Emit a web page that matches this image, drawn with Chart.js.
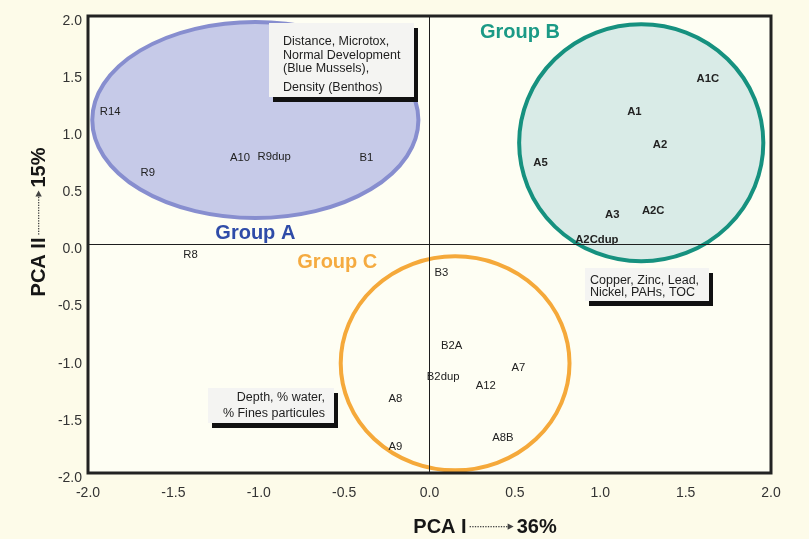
<!DOCTYPE html>
<html>
<head>
<meta charset="utf-8">
<title>PCA site scores</title>
<script src="https://cdn.jsdelivr.net/npm/chart.js@4/dist/chart.umd.min.js"></script>
<style>
  html, body { margin: 0; padding: 0; background: #fdfbe9; }
  canvas { display: block; }
</style>
</head>
<body>
<canvas id="pca" width="809" height="539"></canvas>
<script>
// Site scores on the first two principal components
const groupASites = ['R14', 'R9', 'A10', 'R9dup', 'B1'];
const groupAPC1 = [-1.87, -1.65, -1.11, -0.91, -0.37];
const groupAPC2 = [1.16, 0.63, 0.76, 0.77, 0.76];

const groupBSites = ['A1C', 'A1', 'A2', 'A5', 'A3', 'A2C', 'A2Cdup'];
const groupBPC1 = [1.63, 1.20, 1.35, 0.65, 1.07, 1.31, 0.98];
const groupBPC2 = [1.45, 1.16, 0.87, 0.71, 0.26, 0.29, 0.04];

const groupCSites = ['B3', 'B2A', 'B2dup', 'A12', 'A7', 'A8', 'A9', 'A8B'];
const groupCPC1 = [0.07, 0.13, 0.08, 0.33, 0.52, -0.20, -0.20, 0.43];
const groupCPC2 = [-0.25, -0.89, -1.16, -1.24, -1.08, -1.35, -1.77, -1.69];

const otherSites = ['R8'];
const otherPC1 = [-1.40];
const otherPC2 = [-0.09];

// Group envelopes: centre and half-axes in PC units
const groupNames = ['Group A', 'Group B', 'Group C'];
const envCentreX = [-1.02, 1.24, 0.15];
const envCentreY = [1.09, 0.89, -1.04];
const envHalfX = [0.955, 0.715, 0.67];
const envHalfY = [0.858, 1.037, 0.937];
const groupNameX = [-1.02, 0.53, -0.54];
const groupNameY = [0.10, 1.86, -0.16];

const axisTicks = [-2.0, -1.5, -1.0, -0.5, 0.0, 0.5, 1.0, 1.5, 2.0];

// Variables driving each direction, anchored at their top-left corner
const noteLines = [
  ['Distance, Microtox,', 'Normal Development', '(Blue Mussels),', 'Density (Benthos)'],
  ['Copper, Zinc, Lead,', 'Nickel, PAHs, TOC'],
  ['Depth, % water,', '% Fines particules']
];
const noteX = [-0.94, 0.91, -1.30];
const noteY = [1.94, -0.21, -1.26];

// ---- styling ----
const SANS = '"Liberation Sans", Arial, Helvetica, sans-serif';
const groupStyles = [
  { fill: '#c6cae8', stroke: '#878ecf', text: '#2f4ca8' },
  { fill: '#d9ebe7', stroke: '#16917f', text: '#1b9a86' },
  { fill: null,      stroke: '#f5a93a', text: '#f5ab40' }
];
const noteBoxes = [
  { w: 145, h: 74, align: 'left',  pad: 14, rows: [19, 32.5, 46, 65] },
  { w: 124, h: 33, align: 'left',  pad: 5,  rows: [13, 25] },
  { w: 126, h: 35, align: 'right', pad: 9,  rows: [9.5, 25.5] }
];

function toPoints(xs, ys) { return xs.map((v, i) => ({ x: v, y: ys[i] })); }

function drawArrowTitle(ctx, lead, tail, cx, cy, angle) {
  ctx.save();
  ctx.translate(cx, cy);
  ctx.rotate(angle);
  ctx.font = 'bold 20px ' + SANS;
  const wL = ctx.measureText(lead).width;
  const wT = ctx.measureText(tail).width;
  const arrowLen = 44, gap = 3;
  const total = wL + gap + arrowLen + gap + wT;
  let xx = -total / 2;
  ctx.textBaseline = 'middle';
  ctx.textAlign = 'left';
  ctx.fillStyle = '#161616';
  ctx.fillText(lead, xx, 1);
  xx += wL + gap;
  ctx.fillStyle = '#444';
  for (let d = 0; d < arrowLen - 6; d += 2.6) ctx.fillRect(xx + d, 0, 1.3, 1.3);
  ctx.beginPath();
  ctx.moveTo(xx + arrowLen, 0.6);
  ctx.lineTo(xx + arrowLen - 6, -2.6);
  ctx.lineTo(xx + arrowLen - 6, 3.8);
  ctx.closePath();
  ctx.fill();
  xx += arrowLen + gap;
  ctx.fillStyle = '#161616';
  ctx.fillText(tail, xx, 1);
  ctx.restore();
}

const pcaDecor = {
  id: 'pcaDecor',
  beforeDraw(chart) {
    const { ctx, chartArea: a, scales: { x, y } } = chart;
    ctx.save();
    ctx.fillStyle = '#fdfbe9';
    ctx.fillRect(0, 0, chart.width, chart.height);
    ctx.fillStyle = '#fefef3';
    ctx.fillRect(a.left, a.top, a.right - a.left, a.bottom - a.top);
    groupNames.forEach((n, i) => {
      const cx = x.getPixelForValue(envCentreX[i]);
      const cy = y.getPixelForValue(envCentreY[i]);
      const rx = x.getPixelForValue(envCentreX[i] + envHalfX[i]) - cx;
      const ry = cy - y.getPixelForValue(envCentreY[i] + envHalfY[i]);
      ctx.beginPath();
      ctx.ellipse(cx, cy, rx, ry, 0, 0, Math.PI * 2);
      if (groupStyles[i].fill) {
        ctx.fillStyle = groupStyles[i].fill;
        ctx.fill();
      }
      ctx.lineWidth = 4;
      ctx.strokeStyle = groupStyles[i].stroke;
      ctx.stroke();
    });
    ctx.restore();
  },
  afterDatasetsDraw(chart) {
    const { ctx, scales: { x, y } } = chart;
    ctx.save();
    ctx.textAlign = 'center';
    ctx.textBaseline = 'middle';
    chart.data.datasets.forEach((ds, di) => {
      const meta = chart.getDatasetMeta(di);
      ctx.font = (ds.boldNames ? 'bold ' : '') + '11.3px ' + SANS;
      ctx.fillStyle = '#222';
      meta.data.forEach((pt, j) => ctx.fillText(ds.siteNames[j], pt.x, pt.y));
    });
    ctx.font = 'bold 20px ' + SANS;
    groupNames.forEach((n, i) => {
      ctx.fillStyle = groupStyles[i].text;
      ctx.fillText(n, x.getPixelForValue(groupNameX[i]), y.getPixelForValue(groupNameY[i]));
    });
    ctx.restore();
  },
  afterDraw(chart) {
    const { ctx, chartArea: a, scales: { x, y } } = chart;
    ctx.save();
    // plot frame
    ctx.lineWidth = 3;
    ctx.strokeStyle = '#222';
    ctx.strokeRect(a.left, a.top, a.right - a.left, a.bottom - a.top);
    // variable notes with drop shadow
    ctx.font = '12.5px ' + SANS;
    ctx.textBaseline = 'middle';
    noteLines.forEach((lines, i) => {
      const b = noteBoxes[i];
      const bx = Math.round(x.getPixelForValue(noteX[i]));
      const by = Math.round(y.getPixelForValue(noteY[i]));
      ctx.fillStyle = '#111';
      ctx.fillRect(bx + 4, by + 5, b.w, b.h);
      ctx.fillStyle = '#f4f4f2';
      ctx.fillRect(bx, by, b.w, b.h);
      ctx.fillStyle = '#1e1e1e';
      ctx.textAlign = b.align;
      const tx = b.align === 'left' ? bx + b.pad : bx + b.w - b.pad;
      lines.forEach((t, k) => ctx.fillText(t, tx, by + b.rows[k]));
    });
    ctx.restore();
    drawArrowTitle(ctx, 'PCA I', '36%', 485, 526, 0);
    drawArrowTitle(ctx, 'PCA II', '15%', 38, 222, -Math.PI / 2);
  }
};

const zeroLine = c => (c.tick && c.tick.value === 0 ? '#1e1e1e' : 'rgba(0,0,0,0)');
const tickFormat = v => Number(v).toFixed(1);

new Chart(document.getElementById('pca'), {
  type: 'scatter',
  data: {
    datasets: [
      { label: 'Group A', data: toPoints(groupAPC1, groupAPC2), siteNames: groupASites },
      { label: 'Group B', data: toPoints(groupBPC1, groupBPC2), siteNames: groupBSites, boldNames: true },
      { label: 'Group C', data: toPoints(groupCPC1, groupCPC2), siteNames: groupCSites },
      { label: 'Ungrouped', data: toPoints(otherPC1, otherPC2), siteNames: otherSites }
    ]
  },
  options: {
    responsive: false,
    animation: false,
    devicePixelRatio: 1,
    layout: { padding: { top: 16, right: 38, left: 0, bottom: 0 } },
    elements: { point: { radius: 0, hoverRadius: 0 } },
    plugins: { legend: { display: false }, tooltip: { enabled: false } },
    scales: {
      x: {
        type: 'linear', min: -2, max: 2,
        afterBuildTicks: s => { s.ticks = axisTicks.map(v => ({ value: v })); },
        afterFit: s => { s.height = 66; },
        ticks: { callback: tickFormat, color: '#333', font: { family: SANS, size: 14 }, padding: 12, maxRotation: 0, autoSkip: false },
        grid: { color: zeroLine, lineWidth: 1, drawTicks: false },
        border: { display: false }
      },
      y: {
        type: 'linear', min: -2, max: 2,
        afterBuildTicks: s => { s.ticks = axisTicks.map(v => ({ value: v })); },
        afterFit: s => { s.width = 88; },
        ticks: { callback: tickFormat, color: '#333', font: { family: SANS, size: 14 }, padding: 6, labelOffset: 5, autoSkip: false },
        grid: { color: zeroLine, lineWidth: 1, drawTicks: false },
        border: { display: false }
      }
    }
  },
  plugins: [pcaDecor]
});
</script>
</body>
</html>
